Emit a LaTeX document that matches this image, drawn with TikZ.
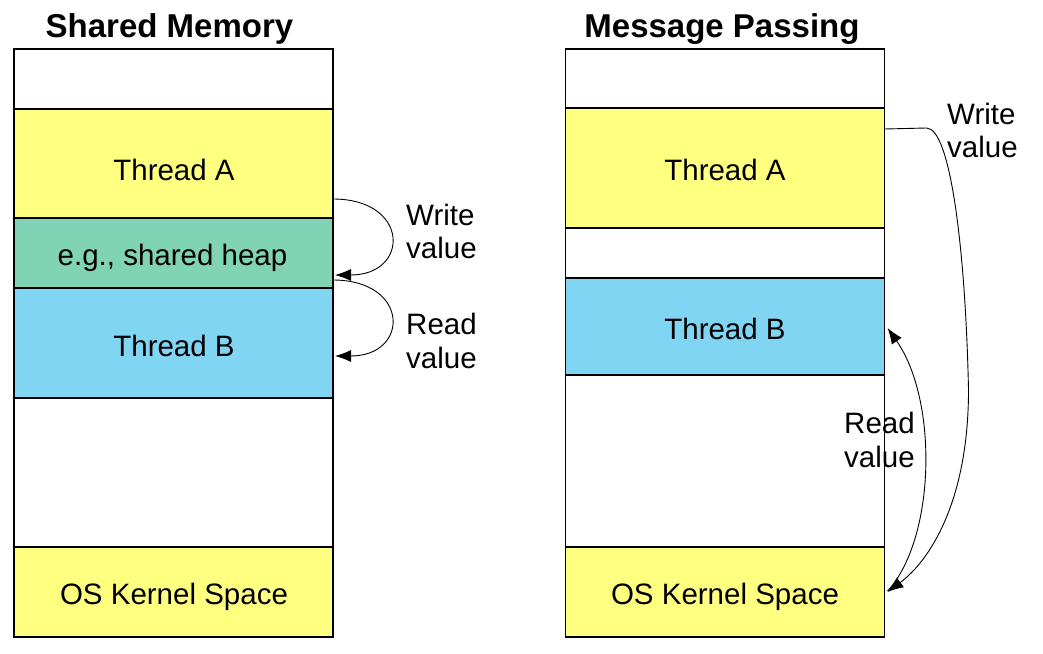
\documentclass[tikz,border=0pt]{standalone}
\usepackage{fontspec}
\setmainfont{Liberation Sans}
\usetikzlibrary{arrows.meta,calc}
\definecolor{yel}{RGB}{255,255,128}
\definecolor{grn}{RGB}{128,211,181}
\definecolor{blu}{RGB}{128,213,243}
\begin{document}
\begin{tikzpicture}[x=1pt,y=-1pt,
  seg/.style={draw=black,line width=1.3pt,minimum width=319pt,inner sep=0pt,outer sep=0pt},
  lbl/.style={inner sep=0pt,font=\fontsize{29.5}{34}\selectfont,anchor=base},
  side/.style={inner sep=0pt,font=\fontsize{29.5}{34}\selectfont,anchor=base west},
  ttl/.style={inner sep=0pt,font=\fontsize{33}{38}\selectfont\bfseries,anchor=base},
  conn/.style={line width=0.9pt,-{Latex[length=16pt,width=12pt]}}]
\useasboundingbox (0,0) rectangle (1043,653);
% left column
\node[seg,fill=white,minimum height=60pt]  (lT) at (173.5,79) {};
\node[seg,fill=white,minimum height=149pt] (lF) at (173.5,472.5) {};
\node[seg,fill=yel,minimum height=109pt]   (lA) at (173.5,163.5) {};
\node[seg,fill=grn,minimum height=70pt]    (lH) at (173.5,253) {};
\node[seg,fill=blu,minimum height=110pt]   (lB) at (173.5,343) {};
\node[seg,fill=yel,minimum height=90pt]    (lK) at (173.5,592) {};
% right column
\node[seg,fill=white,minimum height=59pt]  (rT) at (725,78.5) {};
\node[seg,fill=white,minimum height=50pt]  (rG) at (725,253) {};
\node[seg,fill=white,minimum height=172pt] (rF) at (725,461) {};
\node[seg,fill=yel,minimum height=120pt]   (rA) at (725,168) {};
\node[seg,fill=blu,minimum height=97pt]    (rB) at (725,326.5) {};
\node[seg,fill=yel,minimum height=90pt]    (rK) at (725,592) {};
% titles
\node[ttl] (t1) at (169.5,37) {Shared Memory};
\node[ttl] (t2) at (722,37) {Message Passing};
% segment texts
\node[lbl] (xlA) at (174,180.5) {Thread A};
\node[lbl] (xlH) at (172.5,265) {e.g., shared heap};
\node[lbl] (xlB) at (174,356) {Thread B};
\node[lbl] (xlK) at (174,604) {OS Kernel Space};
\node[lbl] (xrA) at (725,180) {Thread A};
\node[lbl] (xrB) at (725,339.5) {Thread B};
\node[lbl] (xrK) at (725,604) {OS Kernel Space};
% connectors
\coordinate (lws) at ($(lA.south east)+(0,-19)$);
\coordinate (lwe) at ($(lH.east)+(2,22)$);
\coordinate (lrs) at ($(lH.south east)+(0,-8)$);
\coordinate (lre) at ($(lB.east)+(2,13)$);
\coordinate (rws) at ($(rA.north east)+(0,21)$);
\coordinate (rwe) at ($(rK.east)+(3,0)$);
\coordinate (rrs) at ($(rK.east)+(3,-1)$);
\coordinate (rre) at ($(rB.east)+(3,1.5)$);
\draw[conn] (lws) .. controls +(77,0) and +(75,0) .. (lwe);
\draw[conn] (lrs) .. controls +(77,0) and +(75,0) .. (lre);
\draw[conn] (rws) -- ++(42,-1) .. controls +(24,0) and +(-3,-140) .. ++(42,262)
            .. controls +(0,110) and +(43,-32) .. (rwe);
\draw[conn] (rrs) .. controls +(48,-52) and +(51,72.5) .. (rre);
% side labels
\node[side] (lw1) at (406,225) {Write};
\node[side] (lw2) at (406,258) {value};
\node[side] (lr1) at (406,334) {Read};
\node[side] (lr2) at (406,368) {value};
\node[side] (rw1) at (947,124) {Write};
\node[side] (rw2) at (947,157) {value};
\node[side] (rr1) at (844,433) {Read};
\node[side] (rr2) at (844,467) {value};
\end{tikzpicture}
\end{document}
